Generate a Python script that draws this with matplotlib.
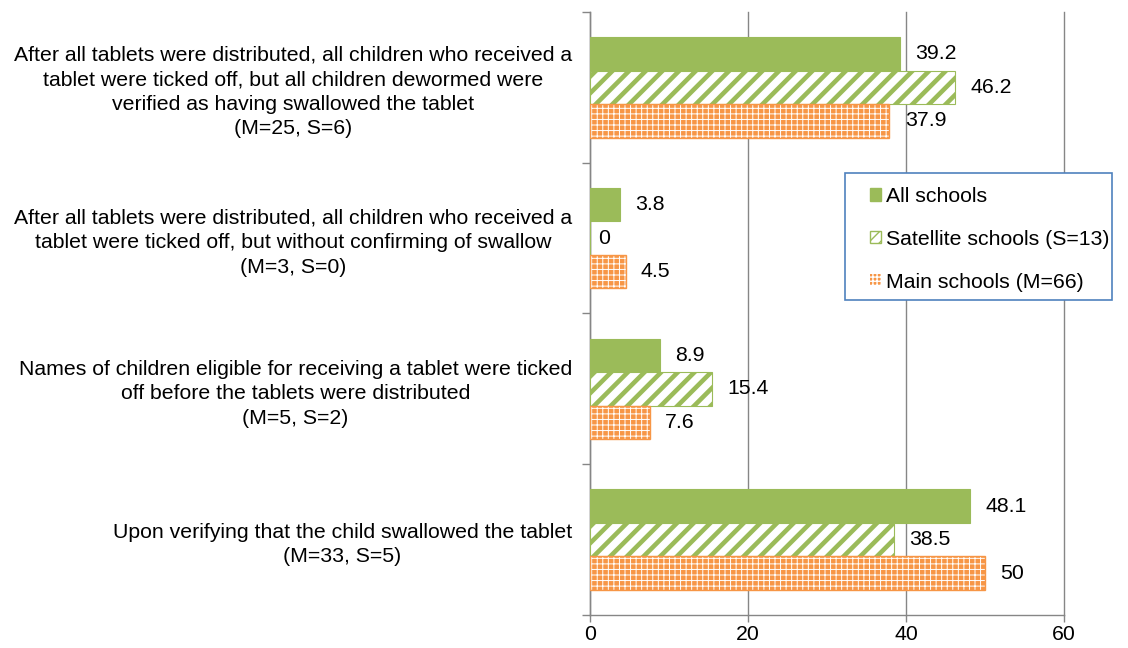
import numpy as np
import matplotlib.pyplot as plt
from matplotlib.patches import Patch, Rectangle

plt.rcParams['font.family'] = ['Liberation Sans', 'DejaVu Sans']

# data
categories = [
    "After all tablets were distributed, all children who received a\ntablet were ticked off, but all children dewormed were\nverified as having swallowed the tablet\n(M=25, S=6)",
    "After all tablets were distributed, all children who received a\ntablet were ticked off, but without confirming of swallow\n(M=3, S=0)",
    "Names of children eligible for receiving a tablet were ticked\noff before the tablets were distributed\n(M=5, S=2)",
    "Upon verifying that the child swallowed the tablet\n(M=33, S=5)",
]
all_schools = [39.2, 3.8, 8.9, 48.1]
satellite = [46.2, 0, 15.4, 38.5]
main_schools = [37.9, 4.5, 7.6, 50]
series_names = ["All schools", "Satellite schools (S=13)", "Main schools (M=66)"]

green = '#9BBB59'
orange = '#F79646'
grey = '#868686'
fs = 15.3

fig = plt.figure(figsize=(11.28, 6.48), dpi=100)
ax = fig.add_axes([0.523, 0.051, 0.9433 - 0.523, 0.9815 - 0.051])

y = np.arange(len(categories))
h = 0.667 / 3

ax.barh(y - h, all_schools, height=h, color=green, edgecolor=green, linewidth=0.8, zorder=3)

with plt.rc_context({'hatch.linewidth': 3.3, 'hatch.color': green}):
    b2 = ax.barh(y, satellite, height=h, color='white', edgecolor=green, hatch='//', linewidth=0.8, zorder=3)
    for p in b2:
        if hasattr(p, 'set_hatch_linewidth'):
            p.set_hatch_linewidth(3.3)

with plt.rc_context({'hatch.linewidth': 0.7}):
    b3 = ax.barh(y + h, main_schools, height=h, color=orange, edgecolor='white', hatch='+++', linewidth=0, zorder=3)
    for p in b3:
        if hasattr(p, 'set_hatch_linewidth'):
            p.set_hatch_linewidth(0.7)
ax.barh(y + h, main_schools, height=h, fill=False, edgecolor=orange, linewidth=1.0, zorder=4)

# data labels
for vals, off in [(all_schools, -h), (satellite, 0), (main_schools, h)]:
    for i, v in enumerate(vals):
        ax.annotate(f"{v:g}", (v, i + off), xytext=(11 if v > 0 else 6, 0), textcoords='offset points',
                    ha='left', va='center', fontsize=fs, color='black')

ax.set_xlim(0, 60)
ax.set_ylim(len(categories) - 0.5, -0.5)
ax.set_xticks([0, 20, 40, 60])
ax.tick_params(axis='x', labelsize=fs, colors=grey, labelcolor='black', length=5, width=1, pad=2)

# category boundaries as ticks, labels in the middle
ax.set_yticks(np.arange(-0.5, len(categories)), minor=False)
ax.set_yticklabels([])
ax.set_yticks(y, minor=True)
ax.set_yticklabels(categories, minor=True, fontsize=fs, multialignment='center', linespacing=1.37)
ax.tick_params(axis='y', which='major', length=6, width=1, colors=grey)
ax.tick_params(axis='y', which='minor', length=0, pad=13)

ax.grid(axis='x', color=grey, linewidth=1, zorder=0)
for gl in ax.get_xgridlines():
    gl.set_clip_on(False)
ax.set_axisbelow(True)
for s in ['top', 'right']:
    ax.spines[s].set_visible(False)
for s in ['left', 'bottom']:
    ax.spines[s].set_color(grey)
    ax.spines[s].set_linewidth(1)

# legend box
fig.patches.append(Rectangle((845 / 1128, 1 - 300 / 648), 267 / 1128, 127 / 648,
                             transform=fig.transFigure, facecolor='white',
                             edgecolor='#4F81BD', linewidth=1.2, zorder=5))
handles = [
    Patch(facecolor=green, edgecolor=green),
    Patch(facecolor='white', edgecolor=green, hatch='///'),
    Patch(facecolor=orange, edgecolor='white', hatch='++++', linewidth=0),
]
leg = fig.legend(handles, series_names, loc='upper left', bbox_to_anchor=(870 / 1128, 1 - 187 / 648),
                 fontsize=fs, frameon=False, handlelength=0.5, handleheight=0.5,
                 handletextpad=0.25, labelspacing=1.12, borderpad=0, borderaxespad=0)
leg.set_zorder(6)

plt.savefig("out.png", dpi=100)
